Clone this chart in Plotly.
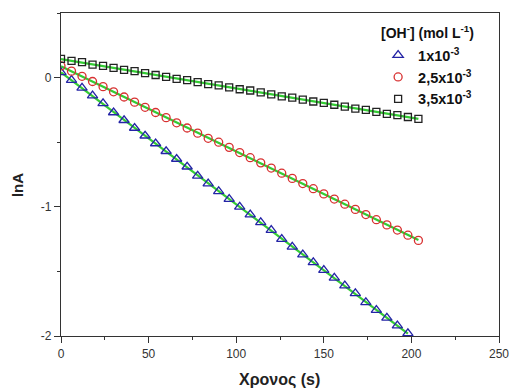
import numpy as np
import plotly.graph_objects as go

# time (s)
t_blue = list(range(0, 199, 6))
t_red = list(range(0, 205, 6))
t_black = list(range(0, 205, 6))

lnA_1e3 = [0.04, -0.02, -0.08, -0.14, -0.20, -0.27, -0.33, -0.39, -0.45, -0.51,
           -0.57, -0.63, -0.69, -0.76, -0.82, -0.88, -0.94, -1.00, -1.06, -1.12,
           -1.18, -1.25, -1.31, -1.37, -1.43, -1.49, -1.55, -1.61, -1.67, -1.74,
           -1.80, -1.86, -1.92, -1.98]
lnA_25e3 = [0.09, 0.05, 0.01, -0.03, -0.07, -0.11, -0.15, -0.19, -0.23, -0.27,
            -0.31, -0.35, -0.39, -0.43, -0.47, -0.50, -0.54, -0.58, -0.62, -0.66,
            -0.70, -0.74, -0.78, -0.82, -0.86, -0.90, -0.94, -0.98, -1.02, -1.06,
            -1.10, -1.14, -1.18, -1.22, -1.26]
lnA_35e3 = [0.145, 0.13, 0.12, 0.10, 0.09, 0.075, 0.06, 0.05, 0.035, 0.02,
            0.005, -0.01, -0.02, -0.035, -0.05, -0.06, -0.075, -0.09, -0.10, -0.115,
            -0.13, -0.145, -0.155, -0.17, -0.185, -0.195, -0.21, -0.225, -0.24, -0.25,
            -0.265, -0.28, -0.29, -0.305, -0.32]

series_names = ["1x10<sup>-3</sup>", "2,5x10<sup>-3</sup>", "3,5x10<sup>-3</sup>"]
legend_title = "[OH<sup>-</sup>] (mol L<sup>-1</sup>)"
x_ticks = [0, 50, 100, 150, 200, 250]
x_ticktext = ["0", "50", "100", "150", "200", "250"]
y_ticks = [-2, -1, 0]
y_ticktext = ["-2", "-1", "0"]
x_title = "Χρονος (s)"
y_title = "lnA"

FONT = "Liberation Sans, Arial"

series = [
    (t_blue, lnA_1e3, series_names[0], "triangle-up-open", "#2424a6", 9),
    (t_red, lnA_25e3, series_names[1], "circle-open", "#d83030", 8),
    (t_black, lnA_35e3, series_names[2], "square-open", "#222222", 7),
]

fig = go.Figure()
# fitted lines
for t, y, name, sym, col, sz in series:
    k, b = np.polyfit(t, y, 1)
    xs = [t[0], t[-1]]
    fig.add_trace(go.Scatter(x=xs, y=[k * v + b for v in xs], mode="lines",
                             line=dict(color="#33cc33", width=2.2),
                             showlegend=False, hoverinfo="skip"))
for t, y, name, sym, col, sz in series:
    fig.add_trace(go.Scatter(x=t, y=y, mode="markers", name="<b>" + name + "</b>",
                             marker=dict(symbol=sym, size=sz, color=col,
                                         line=dict(color=col, width=1.3))))

axis_common = dict(showline=True, linecolor="#333333", linewidth=1.3, mirror=True,
                   ticks="outside", ticklen=6, tickcolor="#333333", tickwidth=1.2,
                   showgrid=False, zeroline=False, automargin=False,
                   tickfont=dict(family=FONT, size=12, color="#333333"))

fig.update_xaxes(range=[0, 250], tickvals=x_ticks, ticktext=x_ticktext,
                 minor=dict(ticks="outside", ticklen=3, dtick=25, tickcolor="#333333"),
                 **axis_common)
fig.update_yaxes(range=[-2, 0.5], tickvals=y_ticks, ticktext=y_ticktext,
                 minor=dict(ticks="outside", ticklen=3, dtick=0.5, tickcolor="#333333"),
                 **axis_common)

fig.add_annotation(text="<b>" + x_title + "</b>", xref="paper", yref="paper",
                   x=0.498, y=-0.136, xanchor="center", yanchor="middle", showarrow=False,
                   font=dict(family=FONT, size=16, color="#222222"))
fig.add_annotation(text="<b>" + y_title + "</b>", xref="paper", yref="paper",
                   x=-0.098, y=0.4675, xanchor="center", yanchor="middle", showarrow=False,
                   textangle=-90, font=dict(family=FONT, size=15, color="#222222"))
# legend heading
fig.add_annotation(text="<b>" + legend_title + "</b>", xref="paper", yref="paper",
                   x=0.726, y=0.941, xanchor="left", yanchor="middle", showarrow=False,
                   font=dict(family=FONT, size=14, color="#111111"))

fig.update_layout(
    width=511, height=389,
    margin=dict(l=61, r=12, t=13, b=53),
    plot_bgcolor="white", paper_bgcolor="white",
    legend=dict(x=0.724, y=0.919, xanchor="left", yanchor="top",
                bgcolor="rgba(0,0,0,0)", tracegroupgap=0, itemsizing="trace",
                font=dict(family=FONT, size=14.5, color="#111111")),
)

fig.write_html("out.html")
